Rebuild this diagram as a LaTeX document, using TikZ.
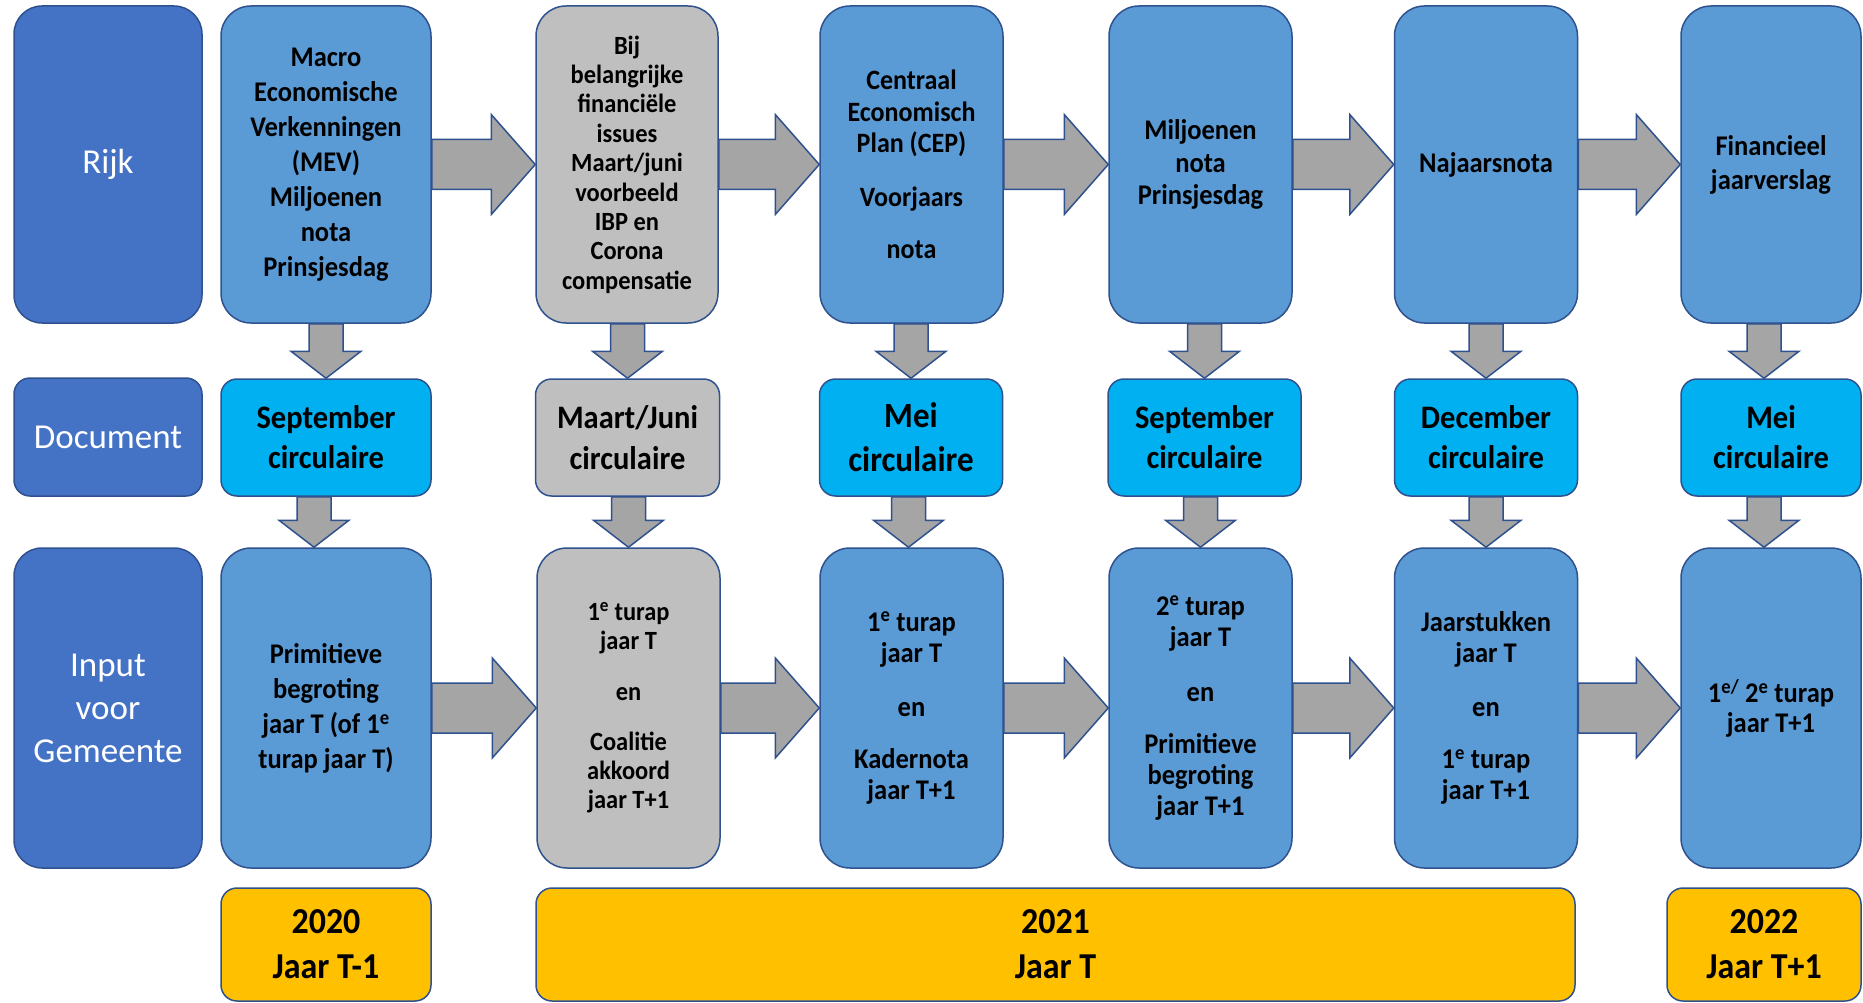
\documentclass[tikz,border=0pt]{standalone}
\usepackage{fontspec}
\setmainfont{Carlito}[BoldFeatures={FakeStretch=0.93}]
\usetikzlibrary{calc}

\definecolor{laneblue}{HTML}{4472C4}
\definecolor{stageblue}{HTML}{5B9BD5}
\definecolor{circblue}{HTML}{00B0F0}
\definecolor{stagegrey}{HTML}{BFBFBF}
\definecolor{yeargold}{HTML}{FFC000}
\definecolor{arrowgrey}{HTML}{A5A5A5}
\definecolor{edgeblue}{HTML}{2F528F}

\tikzset{
  box/.style={draw=edgeblue, line width=1.5pt, align=center, inner sep=0pt},
  lane/.style={box, fill=laneblue, text=white, minimum width=188pt, rounded corners=28pt,
    font=\fontsize{35}{43}\selectfont},
  stage/.style={box, fill=stageblue, minimum width=183pt, minimum height=317pt, rounded corners=30pt,
    font=\bfseries\fontsize{28.5}{34}\selectfont},
  circ/.style={box, fill=circblue, minimum width=183pt, minimum height=117pt, rounded corners=16pt,
    font=\bfseries\fontsize{32.8}{40}\selectfont},
  yearbox/.style={box, fill=yeargold, minimum height=113pt, rounded corners=16pt,
    font=\bfseries\fontsize{36.5}{45}\selectfont},
  blockarrow/.style={fill=arrowgrey, draw=edgeblue, line width=1.5pt, line join=miter}
}

% block arrows between boxes: horizontal (east -> west) and vertical (south -> north, optional x shift)
\newcommand{\hblock}[2]{%
  \draw[blockarrow] ($(#1.east |- #2.west)+(0,-25)$) -- ($(#2.west)+(-44,-25)$) -- ($(#2.west)+(-44,-50)$)
    -- (#2.west) -- ($(#2.west)+(-44,50)$) -- ($(#2.west)+(-44,25)$) -- ($(#1.east |- #2.west)+(0,25)$) -- cycle;}
\newcommand{\vblock}[3][0]{%
  \coordinate (tip) at ($(#3.north)+(#1,0)$);
  \draw[blockarrow] ($(tip |- #2.south)+(-17,0)$) -- ($(tip)+(-17,-27)$) -- ($(tip)+(-35,-27)$)
    -- (tip) -- ($(tip)+(35,-27)$) -- ($(tip)+(17,-27)$) -- ($(tip |- #2.south)+(17,0)$) -- cycle;}

\begin{document}
\begin{tikzpicture}[x=1pt, y=-1pt]
  \fill[white] (0,0) rectangle (1863,1003);
  \useasboundingbox (0,0) rectangle (1863,1003);

  % row labels
  \node[lane, minimum height=317pt] (rijk) at (108,164.5) {Rijk};
  \node[lane, minimum height=118pt, rounded corners=16pt] (document) at (108,437) {Document};
  \node[lane, minimum height=320pt] (input) at (108,708) {Input\\voor\\Gemeente};

  % Rijk
  \node[stage, minimum width=210pt, font=\bfseries\fontsize{28.5}{35}\selectfont] (mev) at (326,164.5)
    {Macro\\Economische\\Verkenningen\\(MEV)\\Miljoenen\\nota\\Prinsjesdag};
  \node[stage, fill=stagegrey, minimum width=182pt, font=\bfseries\fontsize{26.3}{29.4}\selectfont] (ibp) at (627,164.5)
    {Bij\\belangrijke\\financiële\\issues\\Maart/juni\\voorbeeld\\IBP en\\Corona\\compensatie};
  \node[stage, font=\bfseries\fontsize{28}{31.5}\selectfont] (cep) at (911.5,164.5)
    {Centraal\\Economisch\\Plan (CEP)\\[22pt]Voorjaars\\[21pt]nota};
  \node[stage, font=\bfseries\fontsize{28.5}{32.5}\selectfont] (mnota) at (1200.5,164.5) {Miljoenen\\nota\\Prinsjesdag};
  \node[stage] (najaar) at (1486,164.5) {Najaarsnota};
  \node[stage, minimum width=180pt] (fjv) at (1771,164.5) {Financieel\\jaarverslag};

  % Document
  \node[circ, minimum width=210pt] (sepc1) at (326,437.5) {September\\circulaire};
  \node[circ, fill=stagegrey, minimum width=184pt, font=\bfseries\fontsize{32.8}{41}\selectfont] (mjc) at (627.5,437.5)
    {Maart/Juni\\circulaire};
  \node[circ, font=\bfseries\fontsize{35.5}{44}\selectfont] (meic1) at (911,437.5) {Mei\\circulaire};
  \node[circ, minimum width=193pt] (sepc2) at (1204.5,437.5) {September\\circulaire};
  \node[circ] (decc) at (1486,437.5) {December\\circulaire};
  \node[circ, minimum width=180pt] (meic2) at (1771,437.5) {Mei\\circulaire};

  % Input voor Gemeente
  \node[stage, minimum width=210pt, minimum height=320pt, font=\bfseries\fontsize{28.5}{35}\selectfont] (prim) at (326,708)
    {Primitieve\\begroting\\jaar T (of 1\textsuperscript{e}\\turap jaar T)};
  \node[stage, fill=stagegrey, minimum height=320pt, font=\bfseries\fontsize{26.3}{29}\selectfont] (tur1) at (628.5,708)
    {1\textsuperscript{e} turap\\jaar T\\[22pt]en\\[21pt]Coalitie\\akkoord\\jaar T+1};
  \node[stage, minimum height=320pt, font=\bfseries\fontsize{28.5}{31}\selectfont] (kader) at (911.5,708)
    {1\textsuperscript{e} turap\\jaar T\\[23pt]en\\[21pt]Kadernota\\jaar T+1};
  \node[stage, minimum height=320pt, font=\bfseries\fontsize{28.5}{31}\selectfont] (tur2) at (1200.5,708)
    {2\textsuperscript{e} turap\\jaar T\\[24pt]en\\[21pt]Primitieve\\begroting\\jaar T+1};
  \node[stage, minimum height=320pt, font=\bfseries\fontsize{28.5}{31}\selectfont] (jaarst) at (1486,708)
    {Jaarstukken\\jaar T\\[23pt]en\\[21pt]1\textsuperscript{e} turap\\jaar T+1};
  \node[stage, minimum width=180pt, minimum height=320pt, font=\bfseries\fontsize{28.5}{30}\selectfont] (tur3) at (1771,708)
    {1\textsuperscript{e/} 2\textsuperscript{e} turap\\jaar T+1};

  % jaren
  \node[yearbox, minimum width=210pt] (y2020) at (326,944.5) {2020\\Jaar T-1};
  \node[yearbox, minimum width=1039pt] (y2021) at (1055.5,944.5) {2021\\Jaar T};
  \node[yearbox, minimum width=194pt] (y2022) at (1764,944.5) {2022\\Jaar T+1};

  % pijlen
  \hblock{mev}{ibp} \hblock{ibp}{cep} \hblock{cep}{mnota} \hblock{mnota}{najaar} \hblock{najaar}{fjv}
  \hblock{prim}{tur1} \hblock{tur1}{kader} \hblock{kader}{tur2} \hblock{tur2}{jaarst} \hblock{jaarst}{tur3}
  \vblock{mev}{sepc1} \vblock{ibp}{mjc} \vblock{cep}{meic1} \vblock{mnota}{sepc2} \vblock{najaar}{decc} \vblock[-7]{fjv}{meic2}
  \vblock[-12]{sepc1}{prim} \vblock{mjc}{tur1} \vblock[-3]{meic1}{kader} \vblock{sepc2}{tur2} \vblock{decc}{jaarst} \vblock[-7]{meic2}{tur3}
\end{tikzpicture}
\end{document}
